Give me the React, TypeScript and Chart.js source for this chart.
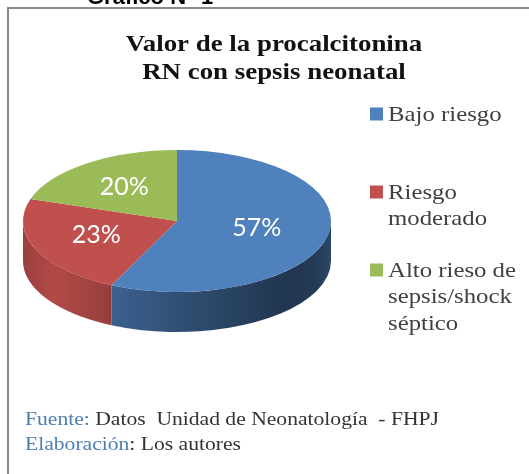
import React, { useEffect, useRef } from "react";
import { Chart, registerables } from "chart.js";

Chart.register(...registerables);

// ---- data ----
const categories: string[][] = [
  ["Bajo riesgo"],
  ["Riesgo", "moderado"],
  ["Alto rieso de", "sepsis/shock", "séptico"],
];
const values: number[] = [57, 23, 20];
const titleLines: string[] = ["Valor de la procalcitonina", "RN con sepsis neonatal"];
const sourceLines: string[][] = [
  ["Fuente:", " Datos  Unidad de Neonatología  - FHPJ"],
  ["Elaboración", ": Los autores"],
];
const figureCaption = "Gráfico N° 1";

// ---- styles ----
const sliceColors = ["#4F81BD", "#C0504D", "#9BBB59"];
const TILT = 71 / 154;
const DEPTH = 40;

function hexToRgb(h: string): number[] {
  const n = parseInt(h.slice(1), 16);
  return [(n >> 16) & 255, (n >> 8) & 255, n & 255];
}
function shade(hex: string, f: number): string {
  const [r, g, b] = hexToRgb(hex);
  return `rgb(${Math.round(r * f)},${Math.round(g * f)},${Math.round(b * f)})`;
}
const sideShade: [number, number][] = [
  [0, 0.8],
  [0.1, 0.92],
  [0.26, 0.8],
  [0.28, 0.76],
  [0.5, 0.62],
  [0.85, 0.42],
  [0.95, 0.45],
  [1, 0.55],
];

// draw text stretched horizontally by sx; returns drawn width
function wideText(ctx: CanvasRenderingContext2D, text: string, x: number, y: number, sx: number): number {
  ctx.save();
  ctx.translate(x, y);
  ctx.scale(sx, 1);
  ctx.fillText(text, 0, 0);
  const w = ctx.measureText(text).width * sx;
  ctx.restore();
  return w;
}

const pie3d = {
  id: "pie3d",
  beforeDatasetsDraw(chart: any) {
    const ctx: CanvasRenderingContext2D = chart.ctx;
    const arcs = chart.getDatasetMeta(0).data;
    if (!arcs.length) return;
    const cx = arcs[0].x;
    const cy = arcs[0].y;
    const rx = arcs[0].outerRadius;
    const ry = rx * TILT;
    arcs.forEach((arc: any, i: number) => {
      const s = arc.startAngle;
      const e = arc.endAngle;
      const color = sliceColors[i % sliceColors.length];
      for (let k = -1; k <= 1; k++) {
        const lo = Math.max(s, 2 * Math.PI * k);
        const hi = Math.min(e, Math.PI + 2 * Math.PI * k);
        if (hi <= lo) continue;
        const g = ctx.createLinearGradient(cx - rx, 0, cx + rx, 0);
        sideShade.forEach(([t, f]) => g.addColorStop(t, shade(color, f)));
        ctx.beginPath();
        ctx.ellipse(cx, cy, rx, ry, 0, lo, hi, false);
        ctx.lineTo(cx + rx * Math.cos(hi), cy + DEPTH + ry * Math.sin(hi));
        ctx.ellipse(cx, cy + DEPTH, rx, ry, 0, hi, lo, true);
        ctx.closePath();
        ctx.fillStyle = g;
        ctx.fill();
      }
    });
    ctx.save();
    ctx.translate(cx, cy);
    ctx.scale(1, TILT);
    ctx.translate(-cx, -cy);
  },
  afterDatasetsDraw(chart: any) {
    const ctx: CanvasRenderingContext2D = chart.ctx;
    ctx.restore();
    const arcs = chart.getDatasetMeta(0).data;
    const data = chart.data.datasets[0].data as number[];
    ctx.save();
    ctx.fillStyle = "#ffffff";
    ctx.font = "25px Lato";
    ctx.textAlign = "center";
    ctx.textBaseline = "middle";
    arcs.forEach((arc: any, i: number) => {
      const mid = (arc.startAngle + arc.endAngle) / 2;
      const r = arc.outerRadius * 0.55;
      const x = arc.x + Math.cos(mid) * r - 3;
      const y = arc.y + Math.sin(mid) * r * TILT - 2;
      ctx.fillText(`${data[i]}%`, x, y);
    });
    ctx.restore();
  },
  afterDraw(chart: any) {
    const ctx: CanvasRenderingContext2D = chart.ctx;
    ctx.save();
    // frame
    ctx.strokeStyle = "#8a8a8a";
    ctx.lineWidth = 2;
    ctx.beginPath();
    ctx.moveTo(8, 480);
    ctx.lineTo(8, 8);
    ctx.lineTo(540, 8);
    ctx.stroke();
    // caption (cut off)
    ctx.fillStyle = "#000";
    ctx.font = "bold 22px 'Liberation Sans'";
    ctx.textBaseline = "alphabetic";
    ctx.textAlign = "left";
    ctx.fillText(figureCaption, 87, 4);
    // title
    ctx.font = "bold 24px 'Liberation Serif'";
    ctx.textAlign = "left";
    ctx.textBaseline = "middle";
    ctx.fillStyle = "#111";
    const tsx = 1.12;
    titleLines.forEach((l, i) => {
      const w = ctx.measureText(l).width * tsx;
      wideText(ctx, l, 274 - w / 2, 45 + i * 28, tsx);
    });
    // legend
    const legendY = [114, 192, 270];
    const labels = chart.data.labels as string[][];
    ctx.font = "21px 'Liberation Serif'";
    labels.forEach((lines, i) => {
      ctx.fillStyle = sliceColors[i];
      ctx.fillRect(370, legendY[i] - 6.5, 13, 13);
      ctx.fillStyle = "#404040";
      lines.forEach((l, j) => wideText(ctx, l, 388, legendY[i] + 1 + j * 26.5, 1.18));
    });
    // source
    ctx.font = "18px 'Liberation Serif'";
    sourceLines.forEach((parts, i) => {
      let x = 25;
      const y = 420 + i * 25;
      ctx.fillStyle = "#4f7db5";
      x += wideText(ctx, parts[0], x, y, 1.2);
      ctx.fillStyle = "#333";
      wideText(ctx, parts[1], x, y, 1.2);
    });
    ctx.restore();
  },
};

export default function App() {
  const ref = useRef<HTMLCanvasElement | null>(null);
  useEffect(() => {
    if (!ref.current) return;
    const chart = new Chart(ref.current, {
      type: "pie",
      data: {
        labels: categories,
        datasets: [
          {
            data: values,
            backgroundColor: sliceColors,
            borderWidth: 0,
            clip: false as any,
          },
        ],
      },
      options: {
        responsive: false,
        animation: false,
        devicePixelRatio: 1,
        layout: { padding: { left: 23, right: 198, top: 67, bottom: 99 } },
        plugins: {
          legend: { display: false },
          title: { display: false },
          tooltip: { enabled: false },
        },
        events: [],
      },
      plugins: [pie3d],
    });
    return () => chart.destroy();
  }, []);
  return (
    <div style={{ position: "fixed", left: 0, top: 0, width: 529, height: 474, background: "#fff" }}>
      <canvas ref={ref} width={529} height={474} />
    </div>
  );
}
